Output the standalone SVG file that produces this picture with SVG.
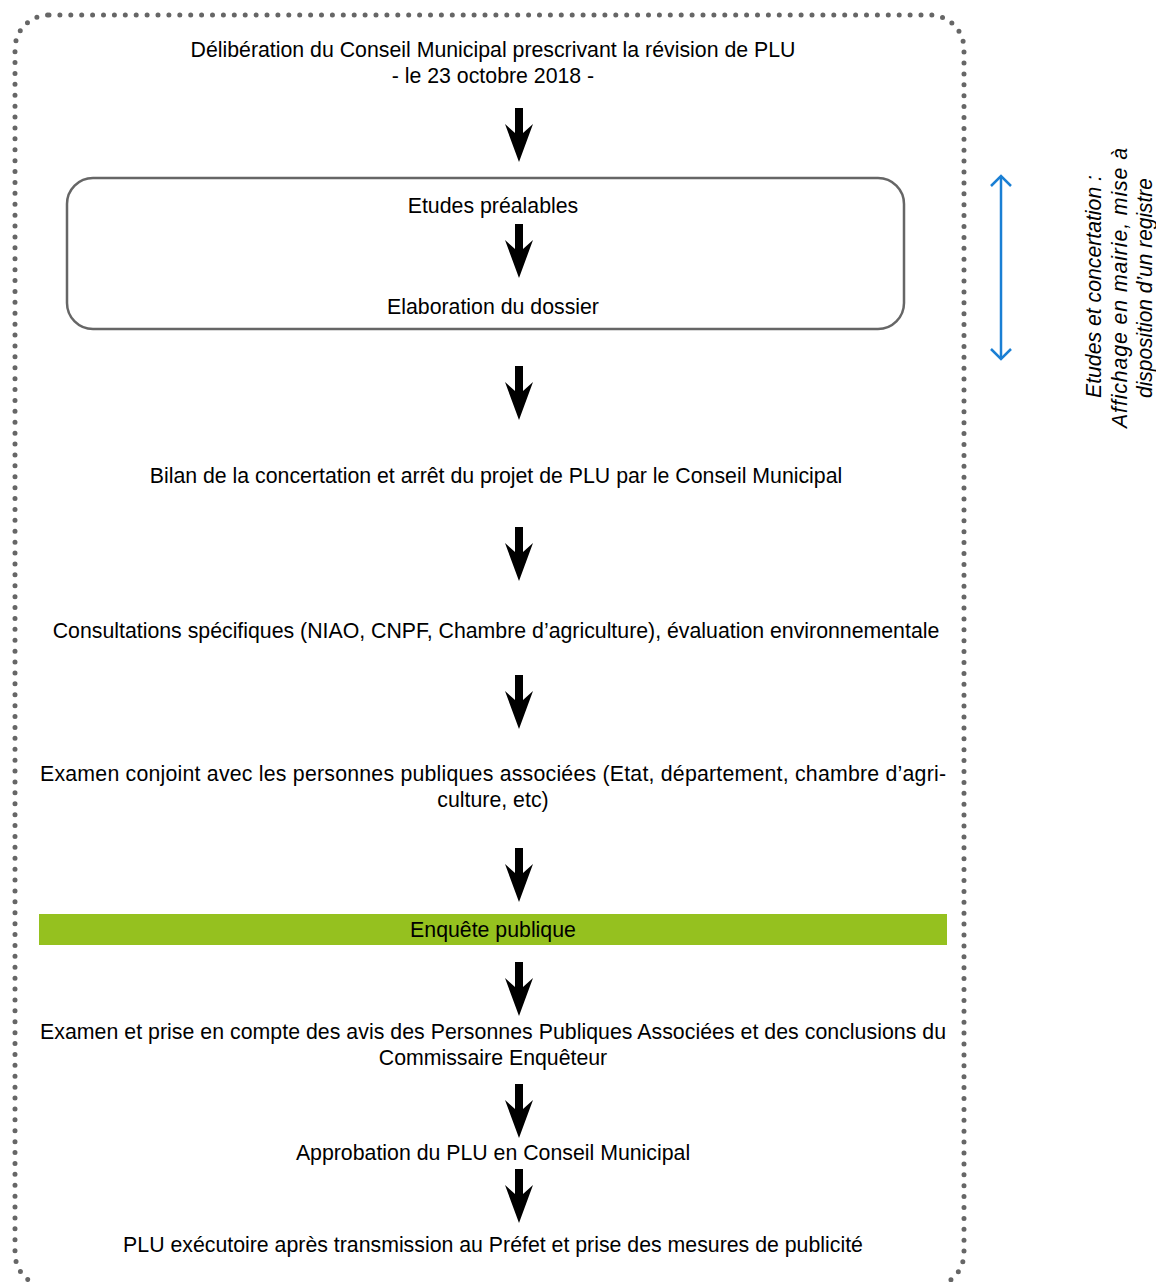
<svg xmlns="http://www.w3.org/2000/svg" width="1156" height="1282" viewBox="0 0 1156 1282">
<style>
.t{font-family:"Liberation Sans",Arial,sans-serif;font-size:21.3px;fill:#000;text-anchor:middle}
.j{text-anchor:start}
.v{font-family:"Liberation Sans",Arial,sans-serif;font-size:21.3px;font-style:italic;fill:#000;text-anchor:start}
.arr{fill:#000}
.chev{fill:none;stroke:#1a7fd4;stroke-width:2.5}
</style>
<defs>
<path id="ba" d="M-4,0 H4 V25 L14,16 L0,54 L-14,16 L-4,25 Z"/>
</defs>
<rect width="1156" height="1282" fill="#fff"/>
<rect id="frame" x="15" y="15" width="949" height="1272" rx="34" fill="none" stroke="#666" stroke-width="5" stroke-linecap="round" stroke-dasharray="0 10.9"/>

<g id="n-deliberation">
<text class="t" x="493" y="57">Délibération du Conseil Municipal prescrivant la révision de PLU</text>
<text class="t" x="493" y="83">- le 23 octobre 2018 -</text>
</g>
<g id="n-etudes-box">
<rect x="67" y="178" width="837" height="151" rx="26" fill="none" stroke="#666" stroke-width="2.5"/>
</g>
<g id="n-etudes"><text class="t" x="493" y="213">Etudes préalables</text></g>
<g id="n-elaboration"><text class="t" x="493" y="314">Elaboration du dossier</text></g>
<g id="n-bilan"><text class="t" x="496" y="483">Bilan de la concertation et arrêt du projet de PLU par le Conseil Municipal</text></g>
<g id="n-consultations"><text class="t" x="496" y="638">Consultations spécifiques (NIAO, CNPF, Chambre d’agriculture), évaluation environnementale</text></g>
<g id="n-examen-conjoint">
<text class="t j" x="40" y="781" textLength="906" lengthAdjust="spacing">Examen conjoint avec les personnes publiques associées (Etat, département, chambre d’agri-</text>
<text class="t" x="493" y="807">culture, etc)</text>
</g>
<g id="n-enquete">
<rect x="39" y="914" width="908" height="31" fill="#95c11f"/>
<text class="t" x="493" y="937">Enquête publique</text>
</g>
<g id="n-examen-avis">
<text class="t j" x="40" y="1039" textLength="906" lengthAdjust="spacing">Examen et prise en compte des avis des Personnes Publiques Associées et des conclusions du</text>
<text class="t" x="493" y="1065">Commissaire Enquêteur</text>
</g>
<g id="n-approbation"><text class="t" x="493" y="1160">Approbation du PLU en Conseil Municipal</text></g>
<g id="n-executoire"><text class="t" x="493" y="1252">PLU exécutoire après transmission au Préfet et prise des mesures de publicité</text></g>

<g id="n-side-note">
<text class="v" transform="translate(1101,398) rotate(-90)" textLength="223" lengthAdjust="spacingAndGlyphs">Etudes et concertation :</text>
<text class="v" transform="translate(1127,428) rotate(-90)" textLength="280" lengthAdjust="spacing">Affichage en mairie, mise à</text>
<text class="v" transform="translate(1152,398) rotate(-90)" textLength="220" lengthAdjust="spacingAndGlyphs">disposition d’un registre</text>
</g>

<g id="connectors">
<use href="#ba" class="arr" x="519" y="108"/>
<use href="#ba" class="arr" x="519" y="224"/>
<use href="#ba" class="arr" x="519" y="366"/>
<use href="#ba" class="arr" x="519" y="527"/>
<use href="#ba" class="arr" x="519" y="675"/>
<use href="#ba" class="arr" x="519" y="848"/>
<use href="#ba" class="arr" x="519" y="962"/>
<use href="#ba" class="arr" x="519" y="1084"/>
<use href="#ba" class="arr" x="519" y="1169"/>
<g id="blue-double-arrow">
<line x1="1001" y1="176" x2="1001" y2="359" stroke="#1a7fd4" stroke-width="2.5"/>
<polyline class="chev" points="991,186 1001,176 1011,186"/>
<polyline class="chev" points="991,349 1001,359 1011,349"/>
</g>
</g>
</svg>
